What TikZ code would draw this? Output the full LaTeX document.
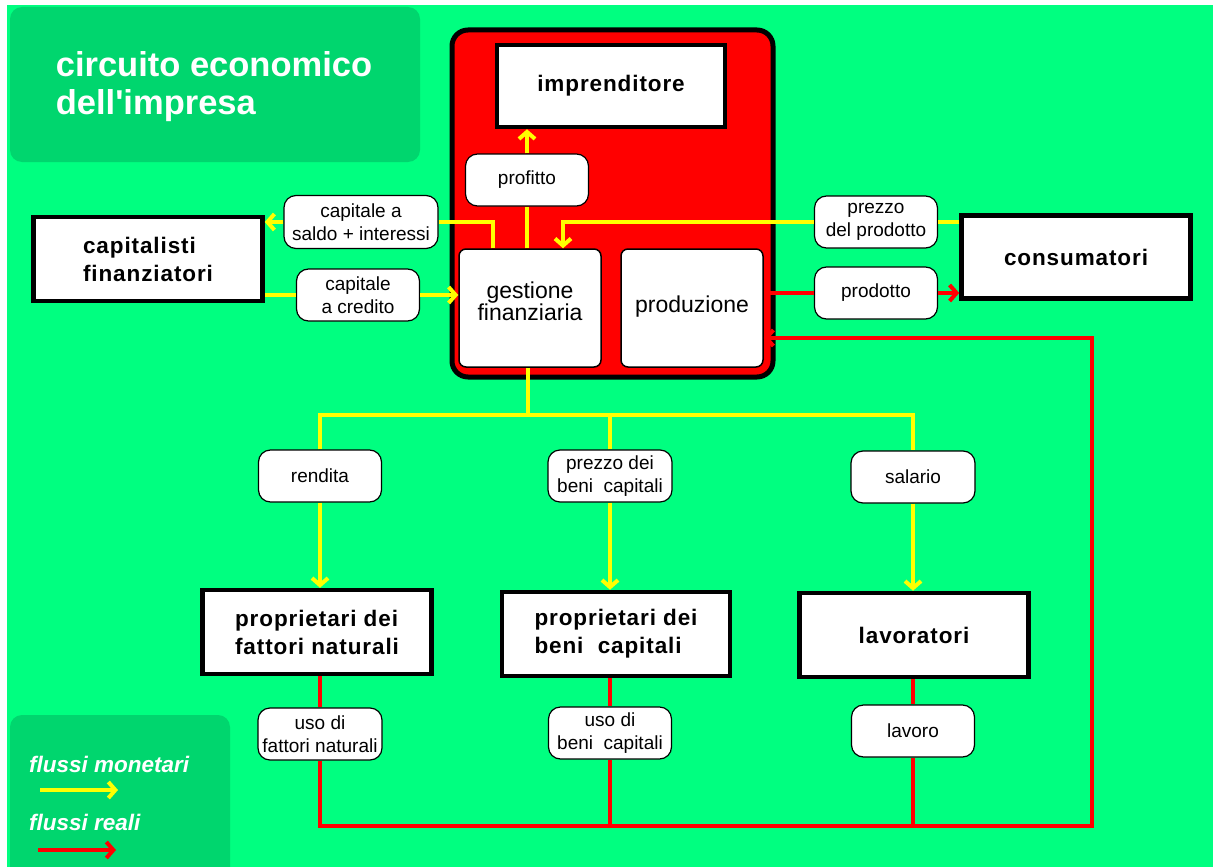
\documentclass[tikz,border=0pt]{standalone}
\usepackage{fontspec}
\setmainfont{Liberation Sans}
\newfontfamily\boxfont[LetterSpace=4]{Liberation Sans}
\usetikzlibrary{positioning,shapes,arrows.meta}

\definecolor{bggreen}{RGB}{0,255,128}
\definecolor{darkgreen}{RGB}{0,214,110}
\definecolor{flowyellow}{RGB}{255,255,0}
\definecolor{flowred}{RGB}{255,0,0}

\tikzset{
  actor/.style={rectangle, draw=black, line width=4.5pt, fill=white, inner sep=0pt, align=center,
    minimum width=229pt, minimum height=84pt, font=\boxfont\bfseries\fontsize{22.5}{28}\selectfont},
  inner/.style={rectangle, rounded corners=7pt, draw=black, line width=1.5pt, fill=white, inner sep=0pt,
    align=center, minimum width=142pt, minimum height=118pt, font=\fontsize{23}{22}\selectfont},
  flow/.style={rectangle, rounded corners=12pt, draw=black, line width=1.2pt, fill=white, inner sep=0pt,
    align=center, minimum width=123pt, minimum height=52pt, font=\fontsize{19}{23}\selectfont},
  money/.style={draw=flowyellow, line width=4pt},
  goods/.style={draw=flowred, line width=4pt},
  tip/.style={-{Straight Barb[length=7pt,width=16pt]}}
}

\begin{document}
\begin{tikzpicture}[x=1pt,y=-1pt]
  \useasboundingbox (0,0) rectangle (1213,867);
  \fill[white] (0,0) rectangle (1213,867);
  \fill[bggreen] (7,5) rectangle (1213,867);

  % title and legend
  \fill[darkgreen, rounded corners=12pt] (10,7) rectangle (420,162);
  \node[align=left, text=white, inner sep=0pt, font=\bfseries\fontsize{34.5}{38}\selectfont] (title) at (214,87) {circuito economico\\dell\textquotesingle impresa};
  \fill[darkgreen, rounded corners=12pt] (10,715) rectangle (230,900);
  \node[anchor=west, text=white, inner sep=0pt, font=\bfseries\itshape\fontsize{22.5}{24}\selectfont] (lgmoney) at (29,764) {flussi monetari};
  \node[anchor=west, text=white, inner sep=0pt, font=\bfseries\itshape\fontsize{22.5}{24}\selectfont] (lggoods) at (29,822) {flussi reali};
  \coordinate (lgm1) at (40,790);
  \coordinate (lgm2) at (118,790);
  \coordinate (lgg1) at (38,850);
  \coordinate (lgg2) at (116,850);
  \draw[money,tip] (lgm1) -- (lgm2);
  \draw[goods,tip] (lgg1) -- (lgg2);

  % the firm
  \node[rectangle, rounded corners=16pt, draw=black, line width=5pt, fill=flowred,
    minimum width=321pt, minimum height=347pt] (firm) at (612.5,203.5) {};
  \node[actor, minimum width=228pt, minimum height=82pt] (imp) at (611,86) {imprenditore};
  \node[flow] (prof) at (527,180) {profitto};
  \node[inner, text depth=14pt] (gest) at (530,308) {gestione\\finanziaria};
  \node[inner, text depth=8pt] (prod) at (692,308) {produzione};

  % outside actors
  \node[actor, align=left] (capfin) at (148,259) {capitalisti\\finanziatori};
  \node[actor, minimum height=83pt] (cons) at (1076,257) {consumatori};
  \node[actor, align=left] (pfn) at (317,632) {proprietari dei\\fattori naturali};
  \node[actor, align=left, minimum width=228pt] (pbc) at (616,634) {proprietari dei\\beni~ capitali};
  \node[actor] (lav) at (914,635) {lavoratori};

  % flow labels
  \node[flow, minimum width=154pt, minimum height=53pt] (saldo) at (361,222) {capitale a\\saldo + interessi};
  \node[flow] (credito) at (358,295) {capitale\\a credito};
  \node[flow] (prezzo) at (876,222) {prezzo\\del prodotto};
  \node[flow] (prodotto) at (876,293) {prodotto};
  \node[flow] (rendita) at (320,476) {rendita};
  \node[flow, minimum width=124pt] (prezzobeni) at (610,476) {prezzo dei\\beni~ capitali};
  \node[flow, minimum width=124pt] (salario) at (913,477) {salario};
  \node[flow, minimum width=124pt] (usofn) at (320,734) {uso di\\fattori naturali};
  \node[flow] (usobc) at (610,733) {uso di\\beni~ capitali};
  \node[flow] (lavoro) at (913,731) {lavoro};

  % flussi monetari
  \draw[money] (gest.north -| prof) -- (prof);
  \draw[money,tip] (prof) -- (prof |- imp.south);
  \coordinate (saldoup) at (493,222);
  \draw[money] (gest.north -| saldoup) -- (saldoup) -- (saldo);
  \draw[money,tip] (saldo) -- (saldo -| capfin.east);
  \draw[money] (capfin.east |- credito) -- (credito);
  \draw[money,tip] (credito) -- (credito -| gest.west);
  \coordinate (prezzodown) at (563,222);
  \draw[money] (cons.west |- prezzo) -- (prezzo);
  \draw[money,tip] (prezzo) -- (prezzodown) -- (gest.north -| prezzodown);
  \coordinate (hub) at (528,415);
  \draw[money] (gest.south -| hub) -- (hub);
  \draw[money] (rendita) |- (hub) -| (salario);
  \draw[money] (prezzobeni) -- (prezzobeni |- hub);
  \draw[money,tip] (rendita) -- (rendita |- pfn.north);
  \draw[money,tip] (prezzobeni) -- (prezzobeni |- pbc.north);
  \draw[money,tip] (salario) -- (salario |- lav.north);

  % flussi reali
  \draw[goods] (prod.east |- prodotto) -- (prodotto);
  \draw[goods,tip] (prodotto) -- (prodotto -| cons.west);
  \coordinate (loopR) at (1092,826);
  \coordinate (loopT) at (1092,338);
  \draw[goods] (pfn.south -| usofn) -- (usofn);
  \draw[goods] (pbc.south -| usobc) -- (usobc);
  \draw[goods] (lav.south -| lavoro) -- (lavoro);
  \draw[goods] (usobc) -- (usobc |- loopR);
  \draw[goods] (lavoro) -- (lavoro |- loopR);
  \draw[goods,tip] (usofn) |- (loopR) -- (loopT) -- (loopT -| prod.east);
\end{tikzpicture}
\end{document}
